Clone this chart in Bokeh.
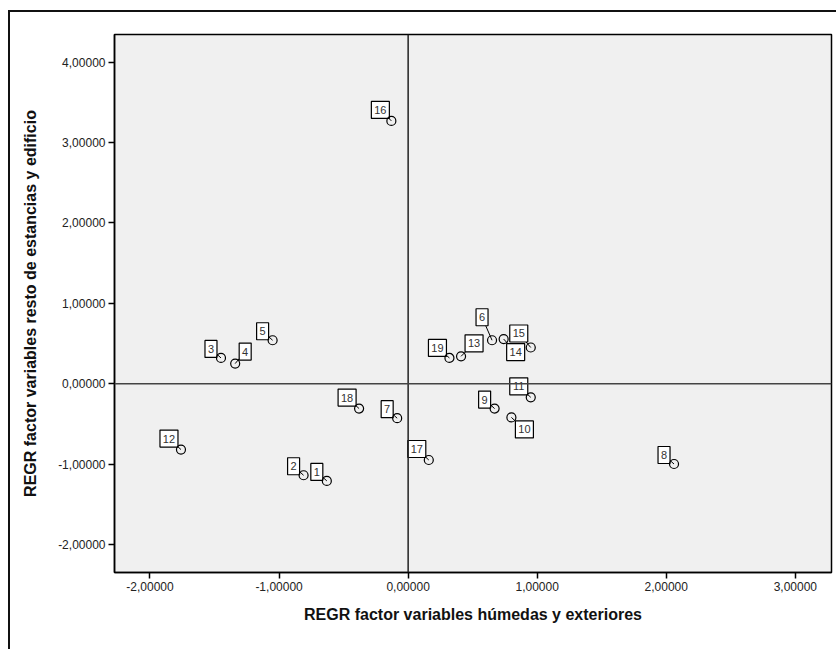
from bokeh.plotting import figure
from bokeh.models import (ColumnDataSource, Span, CustomJSTickFormatter,
                          FixedTicker, Range1d)
from bokeh.core.properties import value
from bokeh.embed import file_html
from bokeh.resources import INLINE

# ---- data ----
case_ids = ["1", "2", "3", "4", "5", "6", "7", "8", "9", "10",
            "11", "12", "13", "14", "15", "16", "17", "18", "19"]
x_humedas = [-0.63, -0.81, -1.45, -1.34, -1.05, 0.65, -0.085, 2.06, 0.67, 0.80,
             0.95, -1.76, 0.41, 0.74, 0.95, -0.13, 0.16, -0.38, 0.32]
y_resto = [-1.21, -1.14, 0.32, 0.25, 0.54, 0.54, -0.43, -1.00, -0.31, -0.42,
           -0.17, -0.82, 0.34, 0.555, 0.45, 3.27, -0.95, -0.31, 0.32]
x_ticks = [-2, -1, 0, 1, 2, 3]
y_ticks = [-2, -1, 0, 1, 2, 3, 4]

# label box placement (screen px, relative to point; y down)
lab_dx = [-10, -10, -10, 10, -10, -10, -10, -10, -10, 13,
          -12, -12, 13, 12, -12, -11, -12, -12, -12]
lab_dy = [-9, -9, -9, -12, -9, -23, -9, -9, -9, 12,
          -11, -11, -13, 13, -14, -11, -11, -11, -10]

X0, X1 = -2.275, 3.28
Y0, Y1 = -2.35, 4.345
FW, FH = 717, 538
sx = FW / (X1 - X0)
sy = FH / (Y1 - Y0)

lx = [x + dx / sx for x, dx in zip(x_humedas, lab_dx)]
ly = [y - dy / sy for y, dy in zip(y_resto, lab_dy)]
bw = [6 + 6 * len(t) for t in case_ids]
src = ColumnDataSource(dict(x=x_humedas, y=y_resto, lx=lx, ly=ly, bw=bw, t=case_ids))

p = figure(width=826, height=637, output_backend="svg", toolbar_location=None,
           x_range=Range1d(X0, X1), y_range=Range1d(Y0, Y1),
           min_border_left=104, min_border_right=5, min_border_top=22,
           min_border_bottom=77, background_fill_color="#f0f0f0",
           border_fill_color="white",
           styles={"margin-left": "8px", "margin-top": "10px",
                   "border-top": "2px solid #111", "border-left": "2px solid #111"})
p.frame_width = FW
p.frame_height = FH
p.outline_line_color = "black"
p.outline_line_width = 1.5
p.xgrid.visible = False
p.ygrid.visible = False

fmt = CustomJSTickFormatter(code="return tick.toFixed(5).replace('.', ',');")
for ax, ticks in ((p.xaxis, x_ticks), (p.yaxis, y_ticks)):
    ax.ticker = FixedTicker(ticks=ticks)
    ax.formatter = fmt
    ax.major_tick_out = 6
    ax.major_tick_in = 0
    ax.minor_tick_out = 0
    ax.minor_tick_in = 0
    ax.major_tick_line_color = "black"
    ax.major_tick_line_width = 1.5
    ax.axis_line_color = "black"
    ax.axis_line_width = 1.5
    ax.major_label_text_font = "Liberation Sans"
    ax.major_label_text_font_size = "12px"
    ax.major_label_text_color = "#222222"
    ax.major_label_standoff = 3
    ax.axis_label_text_font = "Liberation Sans"
    ax.axis_label_text_font_size = "16px"
    ax.axis_label_text_font_style = "bold"
    ax.axis_label_text_color = "#111111"

p.xaxis.axis_label = "REGR factor variables húmedas y exteriores"
p.yaxis.axis_label = "REGR factor variables resto de estancias y edificio"
p.xaxis.axis_label_standoff = 12
p.yaxis.axis_label_standoff = 16

p.add_layout(Span(location=0, dimension="height", line_color="#222222", line_width=1.5))
p.add_layout(Span(location=0, dimension="width", line_color="#444444", line_width=1.5))

p.segment(x0="x", y0="y", x1="lx", y1="ly", source=src, line_color="black", line_width=1)

p.rect(x="lx", y="ly", width="bw", height=17, width_units="screen",
       height_units="screen", source=src, fill_color="white",
       line_color="black", line_width=1.2)
p.text(x="lx", y="ly", text="t", source=src, text_align="center",
       text_baseline="middle", text_font=value("Liberation Sans"),
       text_font_size="11px", text_color="#333333")

p.scatter(x="x", y="y", source=src, size=9, fill_color=None,
          line_color="black", line_width=1.2, marker="circle")

open("out.html", "w").write(file_html(p, INLINE))
